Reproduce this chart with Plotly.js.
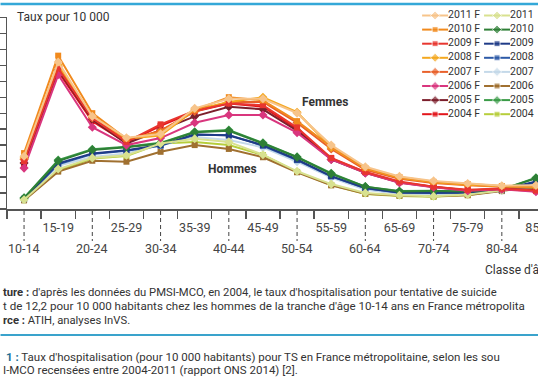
<!DOCTYPE html>
<html><head><meta charset="utf-8">
<script src="https://cdn.plot.ly/plotly-3.0.1.min.js"></script>
<style>html,body{margin:0;padding:0;overflow:hidden;background:#fff}#chart{width:538px;height:384px}</style>
</head><body><div id="chart"></div>
<script>
// ---- data (taux pour 10 000) ----
const categories = ["10-14","15-19","20-24","25-29","30-34","35-39","40-44","45-49","50-54","55-59","60-64","65-69","70-74","75-79","80-84","85+"];
const years = ["2011","2010","2009","2008","2007","2006","2005","2004"];

const femmes2011 = [16.5, 46.0, 29.0, 22.3, 23.5, 31.5, 34.5, 34.5, 30.0, 20.0, 13.2, 10.2, 8.8, 8.0, 7.3, 7.4];
const femmes2010 = [17.5, 48.0, 30.0, 22.0, 24.0, 31.0, 35.0, 34.0, 27.5, 19.5, 12.8, 10.0, 8.5, 7.8, 7.2, 7.2];
const femmes2009 = [15.0, 44.0, 28.5, 21.0, 26.5, 30.8, 33.0, 32.5, 25.5, 16.0, 11.6, 8.6, 7.0, 6.0, 6.4, 5.8];
const femmes2008 = [16.0, 45.0, 29.0, 22.0, 23.0, 31.0, 33.5, 35.0, 30.3, 19.3, 12.7, 9.8, 8.4, 7.6, 7.1, 7.0];
const femmes2007 = [15.5, 44.5, 28.5, 21.5, 24.5, 30.5, 33.5, 33.5, 27.0, 18.8, 12.3, 9.5, 8.1, 7.4, 7.0, 6.8];
const femmes2006 = [12.8, 42.0, 25.6, 20.0, 22.2, 27.0, 29.4, 29.4, 23.9, 15.5, 11.3, 8.2, 6.8, 5.7, 6.2, 5.4];
const femmes2005 = [14.4, 43.5, 28.0, 20.5, 24.7, 29.0, 32.0, 31.2, 24.5, 15.5, 11.3, 8.3, 6.9, 5.8, 6.3, 6.0];
const femmes2004 = [13.5, 43.0, 27.5, 20.8, 26.0, 30.5, 33.0, 32.0, 25.0, 15.8, 11.5, 8.4, 7.0, 5.9, 6.2, 5.6];

const hommes2011 = [2.9, 12.5, 16.0, 16.8, 20.5, 22.0, 21.0, 17.0, 11.8, 7.8, 5.0, 4.3, 4.0, 4.5, 5.9, 7.0];
const hommes2010 = [3.4, 15.0, 18.5, 19.3, 20.5, 24.0, 24.5, 20.5, 16.2, 11.0, 7.0, 5.5, 5.6, 5.5, 6.2, 9.6];
const hommes2009 = [3.2, 14.3, 17.4, 18.4, 20.0, 23.4, 23.0, 20.0, 15.5, 10.3, 6.6, 5.2, 5.1, 5.2, 6.0, 8.6];
const hommes2008 = [3.1, 14.0, 17.2, 18.2, 19.8, 23.2, 23.2, 19.8, 15.3, 10.2, 6.5, 5.1, 5.0, 5.1, 5.9, 8.4];
const hommes2007 = [3.0, 13.5, 16.3, 17.4, 20.0, 22.5, 21.6, 19.3, 14.8, 9.8, 6.0, 4.8, 4.6, 4.8, 5.8, 8.0];
const hommes2006 = [2.7, 11.7, 15.1, 14.8, 17.9, 20.0, 18.8, 16.2, 11.5, 7.4, 4.8, 4.2, 4.0, 4.3, 5.6, 7.5];
const hommes2005 = [3.5, 15.3, 18.7, 19.5, 20.7, 24.2, 24.7, 20.7, 16.3, 11.2, 7.0, 5.6, 5.7, 5.4, 6.0, 9.8];
const hommes2004 = [2.8, 12.0, 15.8, 16.6, 20.5, 21.0, 20.0, 16.9, 11.6, 7.5, 4.7, 4.1, 3.8, 4.4, 5.8, 6.5];

const femmesLabels = ["2011 F","2010 F","2009 F","2008 F","2007 F","2006 F","2005 F","2004 F"];
const hommesLabels = ["2011","2010","2009","2008","2007","2006","2005","2004"];

// ---- styles ----
const femmesData = [femmes2011, femmes2010, femmes2009, femmes2008, femmes2007, femmes2006, femmes2005, femmes2004];
const hommesData = [hommes2011, hommes2010, hommes2009, hommes2008, hommes2007, hommes2006, hommes2005, hommes2004];
const femmesStyle = [
  {c:'#f7c48a', s:'diamond'}, {c:'#f18a1d', s:'square'}, {c:'#e8362f', s:'square'}, {c:'#f4a81f', s:'diamond'},
  {c:'#e9612b', s:'diamond'}, {c:'#d9367e', s:'diamond'}, {c:'#7c1f2c', s:'diamond'}, {c:'#e3151b', s:'square'}
];
const hommesStyle = [
  {c:'#d8e18f', s:'diamond'}, {c:'#2e7f36', s:'diamond'}, {c:'#1f3b87', s:'square'}, {c:'#2d5aa7', s:'square'},
  {c:'#c4d9e9', s:'diamond'}, {c:'#a07030', s:'square'}, {c:'#3a9b47', s:'diamond'}, {c:'#b7ce3b', s:'square'}
];

// pixel helpers
const W = 538, H = 384, ML = 6.5, MT = 8, PB = 209;
const px = p => (p - ML) / (W - ML);
const py = p => (PB - p) / (PB - MT);
const FONT = 'Roboto, "DejaVu Sans", sans-serif';
const TXT = '#333333';

const traces = [];
function addSeries(data, style, label) {
  traces.push({
    type: 'scatter', mode: 'lines+markers', x: categories, y: data, name: label,
    line: {color: style.c, width: 2},
    marker: {color: style.c, symbol: style.s, size: style.s === 'square' ? 6 : 7},
    cliponaxis: false, showlegend: false, hoverinfo: 'x+y+name'
  });
}
for (let i = hommesData.length - 1; i >= 0; i--) addSeries(hommesData[i], hommesStyle[i], hommesLabels[i]);
for (let i = femmesData.length - 1; i >= 0; i--) addSeries(femmesData[i], femmesStyle[i], femmesLabels[i]);

// manual two-column legend (x2/y2 in pixel units)
const LEG = {col: [422, 484], w: 26, top: 15.5, dy: 14.1};
function addKey(col, row, style, label) {
  const x0 = LEG.col[col], yy = LEG.top + LEG.dy * row;
  traces.push({
    type: 'scatter', mode: 'lines+markers+text', xaxis: 'x2', yaxis: 'y2',
    x: [x0, x0 + LEG.w / 2, x0 + LEG.w], y: [yy, yy, yy],
    text: ['', '', label], textposition: 'middle right',
    textfont: {family: FONT, size: 10.5, color: TXT},
    line: {color: style.c, width: 2},
    marker: {color: style.c, symbol: style.s, size: [0, style.s === 'square' ? 6 : 7, 0]},
    cliponaxis: false, showlegend: false, hoverinfo: 'skip'
  });
}
years.forEach((y, i) => { addKey(0, i, femmesStyle[i], femmesLabels[i]); addKey(1, i, hommesStyle[i], hommesLabels[i]); });

const shapes = [
  {type:'line', xref:'paper', yref:'paper', x0:px(0), x1:px(538), y0:py(4), y1:py(4), line:{color:'#34a8d8', width:2.5}},
  {type:'line', xref:'paper', yref:'paper', x0:px(0), x1:px(538), y0:py(335), y1:py(335), line:{color:'#3aa3cc', width:2}}
];
const annotations = [];
categories.forEach((c, i) => {
  if (i % 2 === 0) {
    shapes.push({type:'line', xref:'x', yref:'paper', x0:i, x1:i, y0:py(211), y1:py(241), line:{color:'#444', width:1, dash:'4px,3px'}});
    annotations.push({xref:'x', yref:'paper', x:i, y:py(248.5), text:c, showarrow:false, xanchor:'center', yanchor:'middle',
      font:{family:FONT, size:12.5, color:'#444'}});
  }
});
function note(x, y, text, size, anchor) {
  annotations.push({xref:'paper', yref:'paper', x:px(x), y:py(y), text:text, showarrow:false,
    xanchor: anchor || 'left', yanchor:'middle', font:{family:FONT, size:size, color:TXT}});
}
note(15, 16.7, 'Taux pour 10 000', 12);
note(325, 101.7, '<b>Femmes</b>', 12, 'center');
note(232, 169.3, '<b>Hommes</b>', 12, 'center');
note(483, 270, "Classe d'â", 12);
note(0, 292, "<b>ture :</b> d'après les données du PMSI-MCO, en 2004, le taux d'hospitalisation pour tentative de suicide", 11.25);
note(0, 306, "t de 12,2 pour 10 000 habitants chez les hommes de la tranche d'âge 10-14 ans en France métropolita", 11.6);
note(0, 320, "<b>rce :</b> ATIH, analyses InVS.", 11.25);
note(3, 357, "<b style='color:#1d6f96'>1 :</b> Taux d'hospitalisation (pour 10 000 habitants) pour TS en France métropolitaine, selon les sou", 11.5);
note(0, 370, "I-MCO recensées entre 2004-2011 (rapport ONS 2014) [2].", 11.5);

const layout = {
  width: W, height: H,
  margin: {l: ML, r: 0, t: MT, b: H - PB, pad: 0},
  paper_bgcolor: '#ffffff', plot_bgcolor: 'rgba(0,0,0,0)',
  showlegend: false,
  font: {family: FONT, color: TXT},
  xaxis: {
    type: 'category', categoryorder: 'array', categoryarray: categories,
    range: [-0.5, 15.06], tickmode: 'array', tickvals: categories,
    ticktext: categories.map((c, i) => i % 2 ? c : ''), tickangle: 0, ticklabelstandoff: 6,
    tickson: 'boundaries', ticks: 'outside', ticklen: 8, tickwidth: 1.3, tickcolor: '#555',
    showline: true, linecolor: '#555', linewidth: 1.5, showgrid: false, zeroline: false,
    tickfont: {family: FONT, size: 12.5, color: '#444'}, fixedrange: true
  },
  yaxis: {
    domain: [0, (PB - 17.3) / (PB - MT)], range: [0, 60], tick0: 0, dtick: 5,
    ticks: 'outside', ticklen: 7, tickwidth: 1.3, tickcolor: '#555', showticklabels: false,
    showline: true, linecolor: '#555', linewidth: 1.5, showgrid: false, zeroline: false, fixedrange: true
  },
  xaxis2: {domain: [0, 1], range: [ML, W], anchor: 'y2', visible: false, fixedrange: true},
  yaxis2: {domain: [0, 1], range: [PB, MT], anchor: 'x2', visible: false, fixedrange: true},
  shapes: shapes, annotations: annotations
};
Plotly.newPlot('chart', traces, layout, {staticPlot: true, displayModeBar: false});
</script></body></html>
